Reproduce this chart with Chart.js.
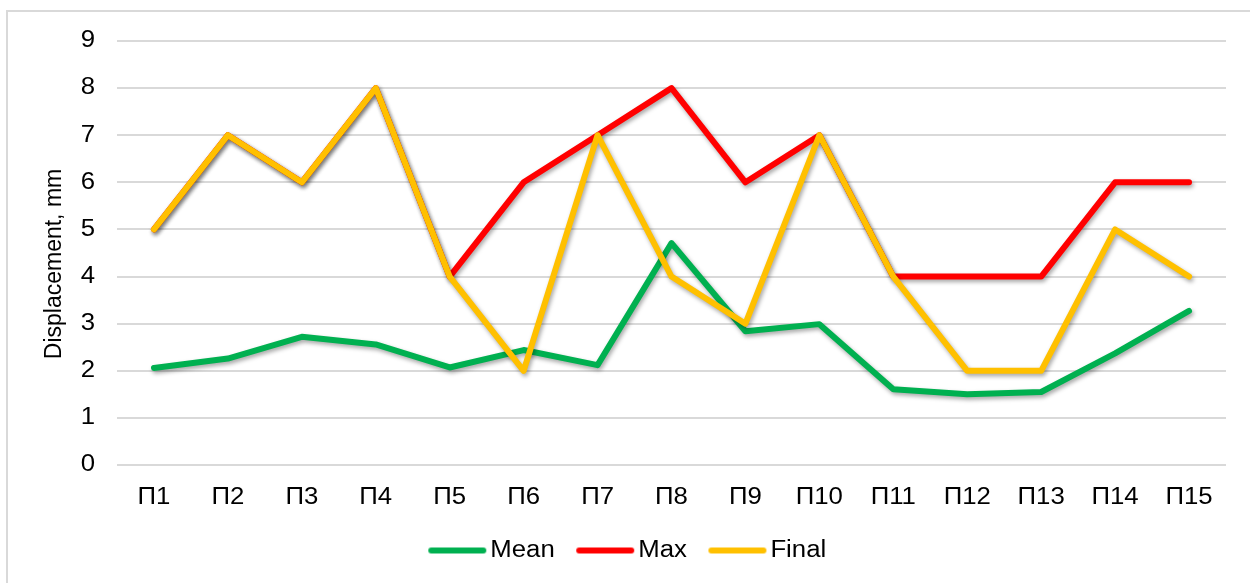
<!DOCTYPE html>
<html>
<head>
<meta charset="utf-8">
<script src="https://cdn.jsdelivr.net/npm/chart.js@4.4.1/dist/chart.umd.min.js"></script>
<style>
  html, body { margin: 0; padding: 0; background: #fff; overflow: hidden; }
  #wrap { position: relative; width: 1250px; height: 583px; }
  #frame { position: absolute; left: 6px; top: 10px; width: 1260px; height: 600px;
           border: 2px solid #d9d9d9; box-sizing: border-box; }
  canvas { position: absolute; left: 0; top: 0; }
</style>
</head>
<body>
<div id="wrap">
  <div id="frame"></div>
  <canvas id="c" width="1250" height="583"></canvas>
</div>
<script>
// Survey points and displacement readings (mm)
const categories = ['П1','П2','П3','П4','П5','П6','П7','П8','П9','П10','П11','П12','П13','П14','П15'];
const meanValues  = [2.06, 2.26, 2.72, 2.56, 2.07, 2.44, 2.12, 4.71, 2.84, 2.99, 1.61, 1.50, 1.55, 2.37, 3.27];
const maxValues   = [5, 7, 6, 8, 4, 6, 7, 8, 6, 7, 4, 4, 4, 6, 6];
const finalValues = [5, 7, 6, 8, 4, 2, 7, 4, 3, 7, 4, 2, 2, 5, 4];
const yTicks = [0, 1, 2, 3, 4, 5, 6, 7, 8, 9];
const yTitle = 'Displacement, mm';

const FONT = "'Liberation Sans', Arial, sans-serif";
const WIDE = 1.12;   // horizontal widening of upright label glyphs

const canvas = document.getElementById('c');
const ctx2d = canvas.getContext('2d');

// Upright text is drawn slightly wider; rotated text is left as is
(function widenText(c) {
  const fill = c.fillText.bind(c);
  const measure = c.measureText.bind(c);
  c.fillText = function (text, x, y, maxWidth) {
    const t = c.getTransform();
    if (Math.abs(t.b) > 1e-6 || Math.abs(t.c) > 1e-6) {
      return maxWidth === undefined ? fill(text, x, y) : fill(text, x, y, maxWidth);
    }
    c.save();
    c.translate(x, y);
    c.scale(WIDE, 1);
    if (maxWidth === undefined) fill(text, 0, 0); else fill(text, 0, 0, maxWidth / WIDE);
    c.restore();
  };
  c.measureText = function (text) {
    const m = measure(text);
    return {
      width: m.width * WIDE,
      actualBoundingBoxLeft: m.actualBoundingBoxLeft * WIDE,
      actualBoundingBoxRight: m.actualBoundingBoxRight * WIDE,
      actualBoundingBoxAscent: m.actualBoundingBoxAscent,
      actualBoundingBoxDescent: m.actualBoundingBoxDescent,
      fontBoundingBoxAscent: m.fontBoundingBoxAscent,
      fontBoundingBoxDescent: m.fontBoundingBoxDescent
    };
  };
})(ctx2d);

// Soft drop shadow under each line
const lineShadow = {
  id: 'lineShadow',
  beforeDatasetDraw(chart) {
    const ctx = chart.ctx;
    ctx.save();
    ctx.shadowColor = 'rgba(0,0,0,0.35)';
    ctx.shadowBlur = 4;
    ctx.shadowOffsetX = 1.5;
    ctx.shadowOffsetY = 2.5;
  },
  afterDatasetDraw(chart) {
    chart.ctx.restore();
  }
};

// Vertical value-axis title, a little below the middle of the plot
const axisTitle = {
  id: 'axisTitle',
  afterDraw(chart) {
    const ctx = chart.ctx;
    const area = chart.chartArea;
    const cy = (area.top + area.bottom) / 2 + 11;
    ctx.save();
    ctx.translate(55, cy);
    ctx.rotate(-Math.PI / 2);
    ctx.font = '23px ' + FONT;
    ctx.fillStyle = '#000';
    ctx.textAlign = 'center';
    ctx.textBaseline = 'middle';
    ctx.fillText(yTitle, 0, 0);
    ctx.restore();
  }
};

// Legend swatch: a short thick line with round ends
function swatch(color) {
  const cv = document.createElement('canvas');
  cv.width = 62; cv.height = 8;
  const g = cv.getContext('2d');
  g.strokeStyle = color;
  g.lineWidth = 6;
  g.lineCap = 'round';
  g.beginPath();
  g.moveTo(5, 4);
  g.lineTo(57, 4);
  g.stroke();
  return cv;
}

function series(label, data, color, order) {
  return {
    label, data, order,
    borderColor: color,
    backgroundColor: color,
    borderWidth: 6,
    borderJoinStyle: 'round',
    borderCapStyle: 'round',
    pointRadius: 0,
    pointHoverRadius: 0,
    tension: 0,
    fill: false
  };
}

new Chart(canvas, {
  type: 'line',
  data: {
    labels: categories,
    datasets: [
      series('Mean', meanValues, '#00B050', 2),
      series('Max', maxValues, '#FF0000', 1),
      series('Final', finalValues, '#FFC000', 0)
    ]
  },
  options: {
    responsive: false,
    animation: false,
    devicePixelRatio: 1,
    layout: { padding: { left: 36, right: 24, top: 41, bottom: 11 } },
    plugins: {
      tooltip: { enabled: false },
      legend: {
        position: 'bottom',
        labels: {
          font: { family: FONT, size: 23 },
          color: '#000',
          usePointStyle: true,
          pointStyleWidth: 43,
          boxHeight: 8,
          padding: 29,
          sort: (a, b) => a.datasetIndex - b.datasetIndex,
          generateLabels(chart) {
            return chart.data.datasets.map((ds, i) => ({
              text: ds.label,
              fillStyle: ds.borderColor,
              strokeStyle: ds.borderColor,
              lineWidth: 0,
              pointStyle: swatch(ds.borderColor),
              datasetIndex: i,
              hidden: false
            }));
          }
        }
      }
    },
    scales: {
      x: {
        offset: true,
        afterFit(scale) { scale.height = 45; },
        grid: { display: false },
        border: { display: false },
        ticks: { font: { family: FONT, size: 23 }, color: '#000', padding: 11, maxRotation: 0 }
      },
      y: {
        min: 0, max: 9,
        afterBuildTicks(scale) { scale.ticks = yTicks.map(v => ({ value: v })); },
        afterFit(scale) { scale.width = 81; },
        grid: { color: '#d9d9d9', lineWidth: 2, drawTicks: false },
        border: { display: false },
        ticks: { font: { family: FONT, size: 23 }, color: '#000', padding: 22 }
      }
    }
  },
  plugins: [lineShadow, axisTitle]
});
</script>
</body>
</html>
